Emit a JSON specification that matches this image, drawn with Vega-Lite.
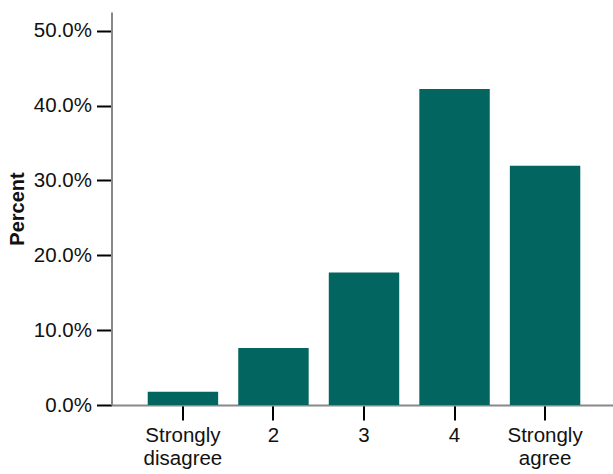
{
  "$schema": "https://vega.github.io/schema/vega-lite/v6.json",
  "autosize": {"type": "none"},
  "padding": {"left": 111.5, "top": 12, "right": 0, "bottom": 69},
  "width": 505,
  "height": 393,
  "background": "white",
  "config": {
    "view": {"stroke": null},
    "font": "Liberation Sans"
  },
  "data": {
    "values": [
      {"response": "Strongly disagree", "pct": 0.0178},
      {"response": "2", "pct": 0.076},
      {"response": "3", "pct": 0.177},
      {"response": "4", "pct": 0.422},
      {"response": "Strongly agree", "pct": 0.3195}
    ]
  },
  "mark": {"type": "bar", "color": "#02655f"},
  "encoding": {
    "x": {
      "field": "response",
      "type": "nominal",
      "sort": null,
      "scale": {"paddingInner": 0.222, "paddingOuter": 0.4},
      "axis": {
        "title": null,
        "labelAngle": 0,
        "labelExpr": "split(datum.label, ' ')",
        "labelFont": "Liberation Sans",
        "labelFontSize": 20.5,
        "labelColor": "#111",
        "labelLineHeight": 23,
        "labelPadding": 5,
        "labelBaseline": "top",
        "tickSize": 15,
        "tickWidth": 2,
        "tickColor": "black",
        "domainColor": "#888",
        "domainWidth": 2,
        "grid": false
      }
    },
    "y": {
      "field": "pct",
      "type": "quantitative",
      "scale": {"domain": [0, 0.525], "nice": false},
      "axis": {
        "title": "Percent",
        "titleFont": "Liberation Sans",
        "titleFontSize": 20,
        "titleFontWeight": "bold",
        "titleColor": "#111",
        "titleAngle": -90,
        "titleBaseline": "alphabetic",
        "titleAlign": "center",
        "titleX": -88,
        "titleY": 196.5,
        "values": [0, 0.1, 0.2, 0.3, 0.4, 0.5],
        "format": ".1%",
        "labelFont": "Liberation Sans",
        "labelFontSize": 20.5,
        "labelColor": "#111",
        "labelPadding": 5,
        "tickSize": 15,
        "tickWidth": 2,
        "tickColor": "black",
        "domainColor": "#888",
        "domainWidth": 2,
        "grid": false
      }
    }
  }
}
